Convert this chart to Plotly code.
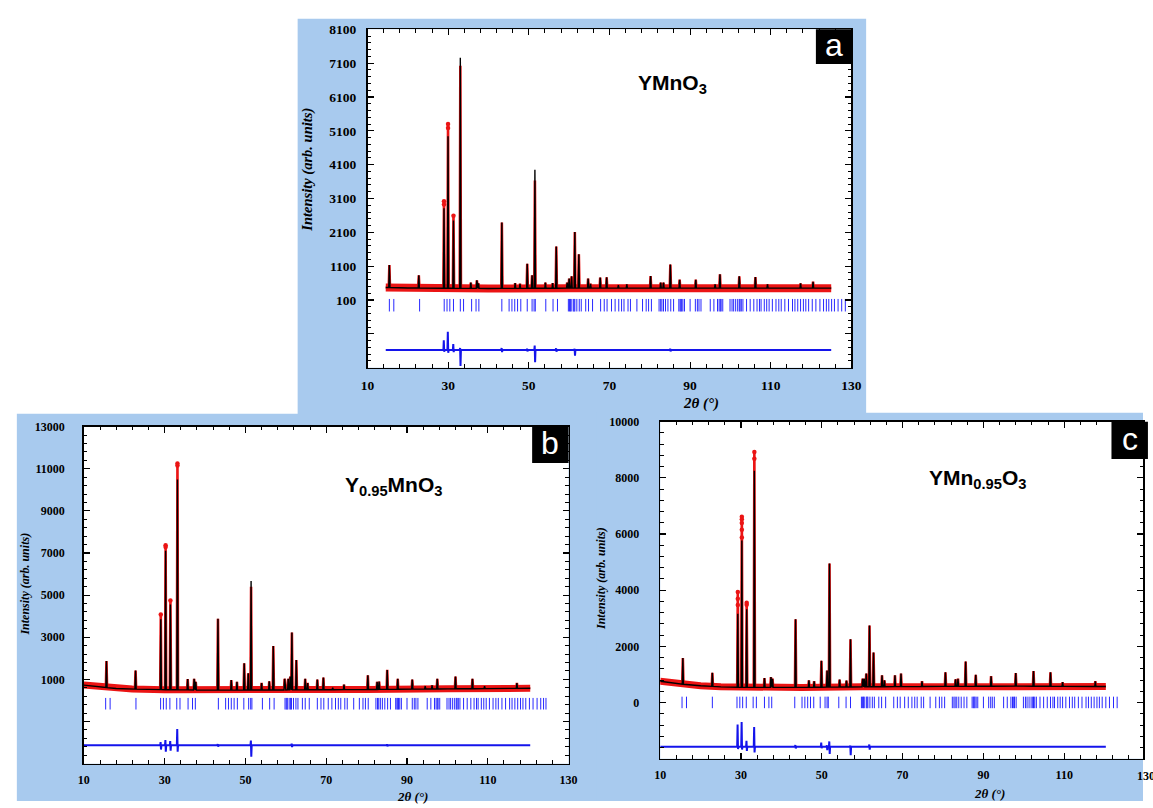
import numpy as np
import plotly.graph_objects as go

W, H = 1153, 808

# ---------------- data ----------------
# Panel a : YMnO3
A_BG_X = [14.5, 20, 30, 40, 60, 90, 125]
A_BG_Y = [470, 455, 445, 440, 450, 450, 450]
A_PEAK_POS = [15.4, 22.7, 28.95, 29.95, 31.3, 33.0, 35.6, 37.1, 37.5, 43.3, 46.6, 47.8, 49.6, 50.8,
              51.5, 54.1, 55.9, 56.8, 59.5, 60.0, 60.6, 61.4, 62.4, 64.7, 65.3, 67.7, 69.3, 72.2,
              74.3, 80.2, 82.7, 83.4, 85.1, 87.4, 91.4, 96.2, 97.4, 102.2, 106.2, 109.2, 117.4, 120.5]
A_CALC = [1130, 830, 2810, 4940, 2450, 7260, 615, 680, 590, 2390, 600, 580, 1170, 830,
          3950, 615, 600, 1680, 615, 730, 800, 2110, 1450, 730, 580, 760, 770, 540,
          560, 810, 615, 615, 1150, 700, 700, 560, 860, 800, 780, 560, 590, 640]
A_OBS_FIX_POS = [28.95, 29.95, 31.3, 33.0, 51.5]
A_OBS_FIX_VAL = [3020, 5300, 2590, 7020, 3630]
A_DOT_POS = [28.95, 28.95, 29.95, 29.95, 31.3]
A_DOT_VAL = [3020, 2920, 5300, 5180, 2590]
A_DIFF_BASE = -1380
A_DIFF_POS = [28.95, 29.95, 31.3, 33.0, 43.3, 49.6, 51.5, 56.8, 61.4, 85.1]
A_DIFF_UP = [290, 540, 180, 60, 60, 40, 130, 50, 40, 40]
A_DIFF_DN = [-50, -80, -60, -470, -60, -40, -360, -50, -170, -40]

# Panel b : Y0.95MnO3
B_BG_X = [10, 12, 15, 18, 22, 30, 45, 60, 80, 100, 120.5]
B_BG_Y = [730, 690, 620, 570, 540, 510, 490, 500, 520, 550, 580]
B_PEAK_POS = [15.6, 22.8, 29.05, 30.24, 31.43, 33.17, 35.7, 37.3, 37.7, 43.2, 46.5, 47.9, 49.7, 50.7,
              51.4, 54.0, 55.9, 56.9, 59.7, 60.6, 61.1, 61.5, 62.6, 64.8, 65.4, 67.8, 69.3, 71.6,
              74.4, 80.3, 82.6, 83.1, 85.1, 87.7, 91.3, 94.5, 96.2, 97.5, 102.0, 106.2, 109.2, 117.2]
B_CALC = [1870, 1420, 3850, 7110, 4550, 10490, 1015, 1030, 880, 3880, 970, 880, 1760, 1290,
          5670, 830, 910, 2580, 1030, 1030, 1140, 3230, 1920, 1030, 830, 990, 1090, 600,
          750, 1190, 880, 900, 1450, 1030, 990, 680, 720, 1030, 1140, 1030, 680, 830]
B_OBS_FIX_POS = [29.05, 30.24, 31.43, 33.17, 51.4]
B_OBS_FIX_VAL = [4085, 7370, 4750, 11250, 5400]
B_DOT_POS = [29.05, 30.24, 30.24, 31.43, 33.17, 33.17]
B_DOT_VAL = [4085, 7370, 7280, 4750, 11250, 11150]
B_DIFF_BASE = -2130
B_DIFF_POS = [29.05, 30.24, 31.43, 33.17, 43.2, 51.4, 61.5, 85.1]
B_DIFF_UP = [150, 250, 200, 780, 60, 230, 80, 50]
B_DIFF_DN = [-200, -300, -250, -300, -60, -540, -80, -50]

# Panel c : YMn0.95O3
C_BG_X = [10, 12, 15, 20, 25, 30, 45, 60, 80, 100, 120.3]
C_BG_Y = [760, 720, 660, 600, 560, 540, 540, 560, 575, 585, 570]
C_PEAK_POS = [15.6, 22.9, 29.2, 30.2, 31.4, 33.3, 35.8, 37.4, 37.8, 43.5, 46.8, 48.1, 49.9, 51.3,
              51.9, 54.4, 56.1, 57.1, 60.1, 60.5, 61.0, 61.8, 62.8, 64.9, 65.5, 68.1, 69.6, 74.8,
              80.6, 83.1, 83.7, 85.6, 88.1, 91.9, 98.0, 102.4, 106.6, 109.6, 117.7]
C_CALC = [1585, 1060, 3160, 5770, 3320, 8250, 870, 910, 850, 2970, 790, 760, 1490, 1140,
          4950, 820, 780, 2250, 850, 850, 1030, 2740, 1780, 970, 790, 970, 1030, 760,
          1080, 830, 850, 1460, 990, 940, 1050, 1120, 1080, 730, 760]
C_OBS_FIX_POS = [29.2, 30.2, 31.4, 33.3]
C_OBS_FIX_VAL = [3940, 6620, 3550, 8920]
C_DOT_POS = [29.2, 29.2, 29.2, 30.2, 30.2, 30.2, 30.2, 30.2, 31.4, 31.4, 33.3, 33.3]
C_DOT_VAL = [3940, 3700, 3470, 6620, 6530, 6390, 6150, 5880, 3550, 3480, 8920, 8680]
C_DIFF_BASE = -1573
C_DIFF_POS = [29.2, 30.2, 31.4, 33.3, 43.5, 49.9, 51.3, 51.9, 57.1, 61.8]
C_DIFF_UP = [790, 880, 210, 700, 60, 150, 50, 190, 40, 80]
C_DIFF_DN = [-80, -100, -150, -200, -60, -50, -120, -260, -300, -100]

# Bragg reflection positions (same phase in the three panels)
BRAGG_POS = [15.4, 16.5, 22.9, 29.0, 29.7, 30.4, 31.3, 33.0, 33.8, 35.8, 36.9, 37.6, 43.3, 45.1,
             45.8, 46.5, 47.2, 48.0, 49.6, 50.8, 51.3, 51.6, 54.2, 56.0, 57.1, 59.8, 60.1, 60.3,
             60.5, 61.0, 61.2, 61.4, 61.9, 62.5, 63.0, 64.1, 64.8, 65.8, 67.8, 68.7, 69.4, 70.5,
             71.4, 72.3, 73.0, 73.6, 74.6, 75.2, 76.8, 78.2, 79.1, 79.7, 80.4, 82.3, 82.7, 83.0,
             83.4, 83.9, 84.5, 85.2, 85.9, 87.2, 87.5, 87.7, 87.9, 88.2, 88.6, 90.0, 91.3, 91.8,
             92.2, 92.7, 95.0, 95.9, 96.8, 97.2, 97.5, 97.7, 98.1, 99.9, 100.4, 100.8, 101.3,
             101.8, 102.2, 102.4, 102.7, 103.1, 104.0, 104.9, 105.8, 106.6, 107.2, 107.6, 108.4,
             109.0, 109.6, 110.4, 111.3, 112.0, 112.6, 113.5, 114.4, 115.4, 116.0, 116.7, 117.4,
             118.1, 118.7, 119.4, 120.3, 121.2, 122.2, 123.1, 123.8, 124.4, 125.1, 125.8, 126.7,
             127.6, 128.5]

A_BRAGG = dict(xmax=128.6, lo=-240, hi=130)
B_BRAGG = dict(xmax=124.5, lo=-430, hi=120)
C_BRAGG = dict(xmax=123.2, lo=-200, hi=210)

# ---------------- helpers ----------------
HW = 0.15


def profile(bg_x, bg_y, pos, heights):
    pts = [(x, y) for x, y in zip(bg_x, bg_y) if all(abs(x - p) > HW for p in pos)]
    for p, h in zip(pos, heights):
        pts.append((p - HW, float(np.interp(p - HW, bg_x, bg_y))))
        pts.append((p, h))
        pts.append((p + HW, float(np.interp(p + HW, bg_x, bg_y))))
    pts.sort()
    return [a for a, _ in pts], [b for _, b in pts]


def obs_heights(pos, calc, fix_pos, fix_val):
    out = list(calc)
    for fp, fv in zip(fix_pos, fix_val):
        out[pos.index(fp)] = fv
    return out


def diff_line(x0, x1, base, sp, up, dn):
    xs, ys = [x0], [base]
    for p, u, d in sorted(zip(sp, up, dn)):
        xs += [p - 0.15, p - 0.05, p + 0.05, p + 0.15]
        ys += [base, base + u, base + d, base]
    xs.append(x1)
    ys.append(base)
    return xs, ys


def bragg(xmax, lo, hi):
    xs, ys = [], []
    for p in BRAGG_POS:
        if p <= xmax:
            xs += [p, p, None]
            ys += [lo, hi, None]
    return xs, ys


panels = [
    dict(bgx=A_BG_X, bgy=A_BG_Y, pos=A_PEAK_POS, calc=A_CALC, fp=A_OBS_FIX_POS, fv=A_OBS_FIX_VAL,
         dp=A_DOT_POS, dv=A_DOT_VAL, db=A_DIFF_BASE, dpos=A_DIFF_POS, dup=A_DIFF_UP, ddn=A_DIFF_DN,
         br=A_BRAGG, frame=(366, 22.7, 857, 367), xr=[10, 130], yr=[-1900, 8100],
         ytv=[-900, 100, 1100, 2100, 3100, 4100, 5100, 6100, 7100, 8100], ymin_lab=100,
         yminor=200, ytick0=100, tfs=13.5, tstand=(5, 7), band=8),
    dict(bgx=B_BG_X, bgy=B_BG_Y, pos=B_PEAK_POS, calc=B_CALC, fp=B_OBS_FIX_POS, fv=B_OBS_FIX_VAL,
         dp=B_DOT_POS, dv=B_DOT_VAL, db=B_DIFF_BASE, dpos=B_DIFF_POS, dup=B_DIFF_UP, ddn=B_DIFF_DN,
         br=B_BRAGG, frame=(78, 427, 570, 770), xr=[10, 130], yr=[-3000, 13000],
         ytv=[-3000, -1000, 1000, 3000, 5000, 7000, 9000, 11000, 13000], ymin_lab=1000,
         yminor=400, ytick0=1000, tfs=12, tstand=(4, 15), band=7),
    dict(bgx=C_BG_X, bgy=C_BG_Y, pos=C_PEAK_POS, calc=C_CALC, fp=C_OBS_FIX_POS, fv=C_OBS_FIX_VAL,
         dp=C_DOT_POS, dv=C_DOT_VAL, db=C_DIFF_BASE, dpos=C_DIFF_POS, dup=C_DIFF_UP, ddn=C_DIFF_DN,
         br=C_BRAGG, frame=(663, 422, 1153, 765), xr=[10, 129.5], yr=[-2000, 10000],
         ytv=[-2000, 0, 2000, 4000, 6000, 8000, 10000], ymin_lab=0,
         yminor=400, ytick0=0, tfs=12, tstand=(4, 17), band=7),
]

fig = go.Figure()
RED = "rgb(235,20,20)"
BLUE = "rgb(20,20,235)"
BRAGG_BLUE = "rgb(40,40,255)"

for i, P in enumerate(panels):
    sfx = "" if i == 0 else str(i + 1)
    xref, yref = "x" + sfx, "y" + sfx
    fig.add_trace(go.Scatter(x=P["bgx"], y=P["bgy"], mode="lines",
                             line=dict(color=RED, width=P["band"]), xaxis=xref, yaxis=yref,
                             showlegend=False, hoverinfo="skip"))
    ox, oy = profile(P["bgx"], P["bgy"], P["pos"], obs_heights(P["pos"], P["calc"], P["fp"], P["fv"]))
    fig.add_trace(go.Scatter(x=ox, y=oy, mode="lines", line=dict(color=RED, width=2.6),
                             xaxis=xref, yaxis=yref, showlegend=False, hoverinfo="skip"))
    fig.add_trace(go.Scatter(x=P["dp"], y=P["dv"], mode="markers",
                             marker=dict(color=RED, size=4.5, line=dict(width=0)),
                             xaxis=xref, yaxis=yref, showlegend=False, hoverinfo="skip"))
    cx, cy = profile(P["bgx"], P["bgy"], P["pos"], P["calc"])
    fig.add_trace(go.Scatter(x=cx, y=cy, mode="lines", line=dict(color="black", width=1.4),
                             xaxis=xref, yaxis=yref, showlegend=False, hoverinfo="skip"))
    bx, by = bragg(**P["br"])
    fig.add_trace(go.Scatter(x=bx, y=by, mode="lines", line=dict(color=BRAGG_BLUE, width=1),
                             xaxis=xref, yaxis=yref, showlegend=False, hoverinfo="skip"))
    dx, dy = diff_line(P["bgx"][0], P["bgx"][-1], P["db"], P["dpos"], P["dup"], P["ddn"])
    fig.add_trace(go.Scatter(x=dx, y=dy, mode="lines", line=dict(color=BLUE, width=2),
                             xaxis=xref, yaxis=yref, showlegend=False, hoverinfo="skip"))

    x0, y0, x1, y1 = P["frame"]
    tickfont = dict(family="Liberation Serif", size=P["tfs"], color="black", weight="bold")
    ytext = [f"{v}" if v >= P["ymin_lab"] else " " for v in P["ytv"]]
    fig.layout["xaxis" + sfx] = dict(
        domain=[x0 / W, min(x1 / W, 1.0)], range=P["xr"], anchor=yref,
        tickmode="linear", tick0=10, dtick=20, ticks="inside", ticklen=6, tickwidth=1.2,
        tickcolor="black", showline=True, linecolor="black", linewidth=1.6, mirror="ticks",
        showgrid=False, zeroline=False, tickfont=tickfont, ticklabelstandoff=P["tstand"][0],
        minor=dict(ticks="inside", ticklen=3.5, tickwidth=1, tickcolor="black", dtick=4, tick0=10,
                   showgrid=False),
    )
    fig.layout["yaxis" + sfx] = dict(
        domain=[1 - y1 / H, 1 - y0 / H], range=P["yr"], anchor=xref,
        tickmode="array", tickvals=P["ytv"], ticktext=ytext, ticks="inside", ticklen=6,
        tickwidth=1.2, tickcolor="black", showline=True, linecolor="black", linewidth=1.6,
        mirror="ticks", showgrid=False, zeroline=False, tickfont=tickfont,
        ticklabelstandoff=P["tstand"][1],
        minor=dict(ticks="inside", ticklen=3.5, tickwidth=1, tickcolor="black", dtick=P["yminor"],
                   tick0=P["ytick0"], showgrid=False),
    )

# ---------------- decorations ----------------
BG_BLUE = "rgb(168,202,238)"
shapes = []
for (l, t, r, b) in [(295, 12, 872, 416), (10, 414, 600, 808), (598, 413, 1153, 808)]:
    shapes.append(dict(type="rect", xref="paper", yref="paper", x0=l / W, x1=r / W,
                       y0=1 - b / H, y1=1 - t / H, fillcolor=BG_BLUE, line=dict(width=0),
                       layer="below"))
for P in panels:
    x0, y0, x1, y1 = P["frame"]
    shapes.append(dict(type="rect", xref="paper", yref="paper", x0=x0 / W, x1=x1 / W,
                       y0=1 - y1 / H, y1=1 - y0 / H, fillcolor="white", line=dict(width=0),
                       layer="below"))
for (l, t, r, b) in [(821, 22.7, 857, 58), (533, 427, 570, 464), (1121, 422, 1158, 460)]:
    shapes.append(dict(type="rect", xref="paper", yref="paper", x0=l / W, x1=r / W,
                       y0=1 - b / H, y1=1 - t / H, fillcolor="black", line=dict(width=0),
                       layer="above"))

ann = []


def add_text(text, x, y, size, family, color="black", weight="normal", style="normal", angle=0):
    ann.append(dict(text=text, x=x / W, y=1 - y / H, xref="paper", yref="paper", showarrow=False,
                    xanchor="center", yanchor="middle", textangle=angle,
                    font=dict(family=family, size=size, color=color, weight=weight, style=style)))


SANS = "Liberation Sans"
SERIF = "Liberation Serif"
add_text("a", 839, 39, 32, SANS, color="white")
add_text("b", 551.5, 444, 32, SANS, color="white")
add_text("c", 1139.5, 440, 32, SANS, color="white")
add_text("YMnO<sub>3</sub>", 675, 78, 21, SANS, weight="bold")
add_text("Y<sub>0.95</sub>MnO<sub>3</sub>", 392, 487, 21, SANS, weight="bold")
add_text("YMn<sub>0.95</sub>O<sub>3</sub>", 985, 480, 21, SANS, weight="bold")
add_text("Intensity (arb. units)", 305, 166, 14.5, SERIF, weight="bold", style="italic", angle=-90)
add_text("Intensity (arb. units)", 18, 587, 12, SERIF, weight="bold", style="italic", angle=-90)
add_text("Intensity (arb. units)", 603, 582, 12, SERIF, weight="bold", style="italic", angle=-90)
add_text("2θ (°)", 704, 403, 15, SERIF, weight="bold", style="italic")
add_text("2θ (°)", 412, 803, 13, SERIF, weight="bold", style="italic")
add_text("2θ (°)", 997, 800, 13, SERIF, weight="bold", style="italic")
add_text("130", 1156, 783, 12, SERIF, weight="bold")

fig.update_layout(width=W, height=H, margin=dict(l=0, r=0, t=0, b=0),
                  paper_bgcolor="white", plot_bgcolor="white", shapes=shapes, annotations=ann,
                  showlegend=False)

fig.write_html("out.html", config={"displayModeBar": False, "staticPlot": True},
               post_script="document.body.style.margin='0px';document.body.style.overflow='hidden';")
